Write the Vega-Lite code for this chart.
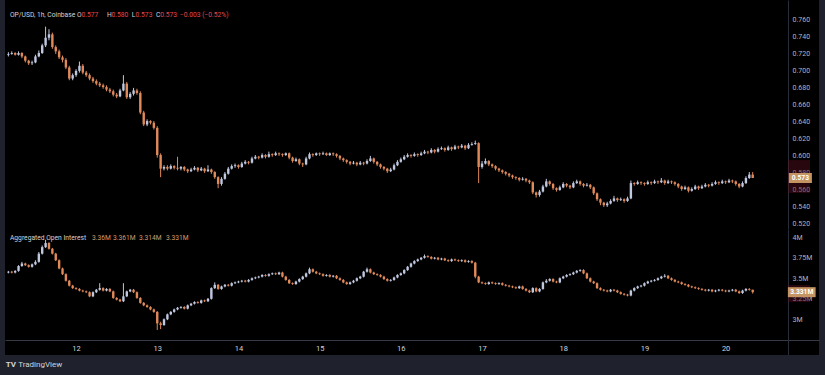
{
"$schema": "https://vega.github.io/schema/vega-lite/v6.json",
"background": "#1f222d",
"padding": {"left": 5, "right": 6, "top": 0, "bottom": 0},
"spacing": 0,
"bounds": "flush",
"config": {"view": {"stroke": null}, "axis": {"labelOverlap": false}, "scale": {"continuousPadding": 0}, "text": {"font": "Roboto", "baseline": "middle", "align": "left", "fontSize": 6.7}},
"datasets": {"c": [
{"t":4,"po":0.718,"ph":0.721,"pl":0.716,"pc":0.719,"io":3.57,"ih":3.59,"il":3.56,"ic":3.58},
{"t":5,"po":0.719,"ph":0.722,"pl":0.718,"pc":0.720,"io":3.58,"ih":3.59,"il":3.56,"ic":3.57},
{"t":6,"po":0.720,"ph":0.721,"pl":0.717,"pc":0.718,"io":3.57,"ih":3.60,"il":3.56,"ic":3.59},
{"t":7,"po":0.718,"ph":0.722,"pl":0.717,"pc":0.720,"io":3.59,"ih":3.66,"il":3.58,"ic":3.65},
{"t":8,"po":0.720,"ph":0.721,"pl":0.714,"pc":0.716,"io":3.65,"ih":3.70,"il":3.64,"ic":3.68},
{"t":9,"po":0.716,"ph":0.717,"pl":0.709,"pc":0.711,"io":3.68,"ih":3.69,"il":3.65,"ic":3.66},
{"t":10,"po":0.711,"ph":0.712,"pl":0.706,"pc":0.708,"io":3.66,"ih":3.67,"il":3.63,"ic":3.64},
{"t":11,"po":0.708,"ph":0.711,"pl":0.706,"pc":0.709,"io":3.64,"ih":3.68,"il":3.63,"ic":3.67},
{"t":12,"po":0.709,"ph":0.718,"pl":0.708,"pc":0.716,"io":3.67,"ih":3.72,"il":3.66,"ic":3.70},
{"t":13,"po":0.716,"ph":0.723,"pl":0.715,"pc":0.720,"io":3.70,"ih":3.82,"il":3.69,"ic":3.80},
{"t":14,"po":0.720,"ph":0.731,"pl":0.719,"pc":0.729,"io":3.80,"ih":3.90,"il":3.79,"ic":3.88},
{"t":15,"po":0.729,"ph":0.751,"pl":0.727,"pc":0.738,"io":3.88,"ih":3.97,"il":3.87,"ic":3.93},
{"t":16,"po":0.738,"ph":0.748,"pl":0.735,"pc":0.742,"io":3.93,"ih":3.94,"il":3.85,"ic":3.86},
{"t":17,"po":0.742,"ph":0.744,"pl":0.725,"pc":0.727,"io":3.86,"ih":3.87,"il":3.79,"ic":3.80},
{"t":18,"po":0.727,"ph":0.729,"pl":0.719,"pc":0.722,"io":3.80,"ih":3.81,"il":3.71,"ic":3.72},
{"t":19,"po":0.722,"ph":0.724,"pl":0.713,"pc":0.715,"io":3.72,"ih":3.73,"il":3.61,"ic":3.62},
{"t":20,"po":0.715,"ph":0.717,"pl":0.709,"pc":0.712,"io":3.62,"ih":3.63,"il":3.54,"ic":3.55},
{"t":21,"po":0.712,"ph":0.714,"pl":0.701,"pc":0.703,"io":3.55,"ih":3.56,"il":3.46,"ic":3.47},
{"t":22,"po":0.703,"ph":0.705,"pl":0.688,"pc":0.690,"io":3.47,"ih":3.48,"il":3.40,"ic":3.41},
{"t":23,"po":0.690,"ph":0.696,"pl":0.688,"pc":0.694,"io":3.41,"ih":3.42,"il":3.37,"ic":3.38},
{"t":24,"po":0.694,"ph":0.701,"pl":0.692,"pc":0.699,"io":3.38,"ih":3.39,"il":3.36,"ic":3.37},
{"t":25,"po":0.699,"ph":0.710,"pl":0.697,"pc":0.705,"io":3.37,"ih":3.38,"il":3.34,"ic":3.35},
{"t":26,"po":0.705,"ph":0.707,"pl":0.695,"pc":0.697,"io":3.35,"ih":3.36,"il":3.33,"ic":3.34},
{"t":27,"po":0.697,"ph":0.699,"pl":0.692,"pc":0.694,"io":3.34,"ih":3.35,"il":3.32,"ic":3.33},
{"t":28,"po":0.694,"ph":0.696,"pl":0.688,"pc":0.690,"io":3.33,"ih":3.34,"il":3.27,"ic":3.28},
{"t":29,"po":0.690,"ph":0.692,"pl":0.685,"pc":0.687,"io":3.28,"ih":3.34,"il":3.27,"ic":3.33},
{"t":30,"po":0.687,"ph":0.689,"pl":0.682,"pc":0.684,"io":3.33,"ih":3.37,"il":3.32,"ic":3.36},
{"t":31,"po":0.684,"ph":0.686,"pl":0.680,"pc":0.682,"io":3.36,"ih":3.44,"il":3.35,"ic":3.38},
{"t":32,"po":0.682,"ph":0.684,"pl":0.678,"pc":0.680,"io":3.38,"ih":3.39,"il":3.34,"ic":3.35},
{"t":33,"po":0.680,"ph":0.682,"pl":0.675,"pc":0.677,"io":3.35,"ih":3.38,"il":3.34,"ic":3.37},
{"t":34,"po":0.677,"ph":0.679,"pl":0.673,"pc":0.675,"io":3.37,"ih":3.38,"il":3.33,"ic":3.34},
{"t":35,"po":0.675,"ph":0.677,"pl":0.669,"pc":0.671,"io":3.34,"ih":3.35,"il":3.25,"ic":3.26},
{"t":36,"po":0.671,"ph":0.673,"pl":0.667,"pc":0.669,"io":3.26,"ih":3.27,"il":3.23,"ic":3.24},
{"t":37,"po":0.669,"ph":0.678,"pl":0.668,"pc":0.676,"io":3.24,"ih":3.25,"il":3.21,"ic":3.22},
{"t":38,"po":0.676,"ph":0.694,"pl":0.675,"pc":0.684,"io":3.22,"ih":3.44,"il":3.21,"ic":3.28},
{"t":39,"po":0.684,"ph":0.686,"pl":0.666,"pc":0.668,"io":3.28,"ih":3.35,"il":3.27,"ic":3.34},
{"t":40,"po":0.668,"ph":0.674,"pl":0.666,"pc":0.672,"io":3.34,"ih":3.37,"il":3.33,"ic":3.36},
{"t":41,"po":0.672,"ph":0.679,"pl":0.670,"pc":0.676,"io":3.36,"ih":3.37,"il":3.32,"ic":3.33},
{"t":42,"po":0.676,"ph":0.678,"pl":0.671,"pc":0.673,"io":3.33,"ih":3.34,"il":3.25,"ic":3.26},
{"t":43,"po":0.673,"ph":0.675,"pl":0.648,"pc":0.650,"io":3.26,"ih":3.27,"il":3.19,"ic":3.20},
{"t":44,"po":0.650,"ph":0.652,"pl":0.634,"pc":0.636,"io":3.20,"ih":3.21,"il":3.16,"ic":3.17},
{"t":45,"po":0.636,"ph":0.642,"pl":0.634,"pc":0.640,"io":3.17,"ih":3.18,"il":3.14,"ic":3.15},
{"t":46,"po":0.640,"ph":0.641,"pl":0.636,"pc":0.638,"io":3.15,"ih":3.16,"il":3.11,"ic":3.12},
{"t":47,"po":0.638,"ph":0.640,"pl":0.630,"pc":0.632,"io":3.12,"ih":3.13,"il":3.08,"ic":3.09},
{"t":48,"po":0.632,"ph":0.634,"pl":0.597,"pc":0.600,"io":3.09,"ih":3.10,"il":2.87,"ic":2.95},
{"t":49,"po":0.600,"ph":0.602,"pl":0.574,"pc":0.584,"io":2.95,"ih":2.97,"il":2.88,"ic":2.93},
{"t":50,"po":0.584,"ph":0.588,"pl":0.582,"pc":0.586,"io":2.93,"ih":3.01,"il":2.92,"ic":3.00},
{"t":51,"po":0.586,"ph":0.588,"pl":0.582,"pc":0.584,"io":3.00,"ih":3.07,"il":2.99,"ic":3.06},
{"t":52,"po":0.584,"ph":0.589,"pl":0.583,"pc":0.587,"io":3.06,"ih":3.10,"il":3.05,"ic":3.09},
{"t":53,"po":0.587,"ph":0.588,"pl":0.583,"pc":0.585,"io":3.09,"ih":3.13,"il":3.08,"ic":3.12},
{"t":54,"po":0.585,"ph":0.598,"pl":0.582,"pc":0.584,"io":3.12,"ih":3.15,"il":3.11,"ic":3.14},
{"t":55,"po":0.584,"ph":0.587,"pl":0.582,"pc":0.586,"io":3.14,"ih":3.16,"il":3.13,"ic":3.15},
{"t":56,"po":0.586,"ph":0.587,"pl":0.581,"pc":0.583,"io":3.15,"ih":3.16,"il":3.12,"ic":3.13},
{"t":57,"po":0.583,"ph":0.584,"pl":0.579,"pc":0.581,"io":3.13,"ih":3.18,"il":3.12,"ic":3.17},
{"t":58,"po":0.581,"ph":0.585,"pl":0.580,"pc":0.583,"io":3.17,"ih":3.20,"il":3.16,"ic":3.19},
{"t":59,"po":0.583,"ph":0.587,"pl":0.582,"pc":0.585,"io":3.19,"ih":3.22,"il":3.18,"ic":3.21},
{"t":60,"po":0.585,"ph":0.586,"pl":0.580,"pc":0.582,"io":3.21,"ih":3.22,"il":3.19,"ic":3.20},
{"t":61,"po":0.582,"ph":0.586,"pl":0.581,"pc":0.584,"io":3.20,"ih":3.24,"il":3.19,"ic":3.23},
{"t":62,"po":0.584,"ph":0.585,"pl":0.579,"pc":0.581,"io":3.23,"ih":3.24,"il":3.21,"ic":3.22},
{"t":63,"po":0.581,"ph":0.588,"pl":0.580,"pc":0.583,"io":3.22,"ih":3.26,"il":3.21,"ic":3.25},
{"t":64,"po":0.583,"ph":0.584,"pl":0.578,"pc":0.580,"io":3.25,"ih":3.39,"il":3.24,"ic":3.38},
{"t":65,"po":0.580,"ph":0.581,"pl":0.572,"pc":0.574,"io":3.38,"ih":3.45,"il":3.37,"ic":3.42},
{"t":66,"po":0.574,"ph":0.575,"pl":0.561,"pc":0.566,"io":3.42,"ih":3.43,"il":3.36,"ic":3.37},
{"t":67,"po":0.566,"ph":0.574,"pl":0.564,"pc":0.572,"io":3.37,"ih":3.41,"il":3.36,"ic":3.40},
{"t":68,"po":0.572,"ph":0.580,"pl":0.571,"pc":0.578,"io":3.40,"ih":3.43,"il":3.39,"ic":3.42},
{"t":69,"po":0.578,"ph":0.586,"pl":0.577,"pc":0.584,"io":3.42,"ih":3.43,"il":3.40,"ic":3.41},
{"t":70,"po":0.584,"ph":0.589,"pl":0.583,"pc":0.587,"io":3.41,"ih":3.45,"il":3.40,"ic":3.44},
{"t":71,"po":0.587,"ph":0.590,"pl":0.585,"pc":0.588,"io":3.44,"ih":3.46,"il":3.43,"ic":3.45},
{"t":72,"po":0.588,"ph":0.589,"pl":0.584,"pc":0.586,"io":3.45,"ih":3.47,"il":3.44,"ic":3.46},
{"t":73,"po":0.586,"ph":0.592,"pl":0.585,"pc":0.590,"io":3.46,"ih":3.48,"il":3.45,"ic":3.47},
{"t":74,"po":0.590,"ph":0.594,"pl":0.589,"pc":0.592,"io":3.47,"ih":3.48,"il":3.45,"ic":3.46},
{"t":75,"po":0.592,"ph":0.593,"pl":0.589,"pc":0.591,"io":3.46,"ih":3.49,"il":3.45,"ic":3.48},
{"t":76,"po":0.591,"ph":0.598,"pl":0.590,"pc":0.596,"io":3.48,"ih":3.51,"il":3.47,"ic":3.50},
{"t":77,"po":0.596,"ph":0.600,"pl":0.595,"pc":0.598,"io":3.50,"ih":3.52,"il":3.49,"ic":3.51},
{"t":78,"po":0.598,"ph":0.599,"pl":0.595,"pc":0.597,"io":3.51,"ih":3.53,"il":3.50,"ic":3.52},
{"t":79,"po":0.597,"ph":0.602,"pl":0.596,"pc":0.600,"io":3.52,"ih":3.55,"il":3.51,"ic":3.54},
{"t":80,"po":0.600,"ph":0.601,"pl":0.596,"pc":0.598,"io":3.54,"ih":3.55,"il":3.52,"ic":3.53},
{"t":81,"po":0.598,"ph":0.604,"pl":0.597,"pc":0.601,"io":3.53,"ih":3.56,"il":3.52,"ic":3.55},
{"t":82,"po":0.601,"ph":0.602,"pl":0.598,"pc":0.600,"io":3.55,"ih":3.57,"il":3.54,"ic":3.56},
{"t":83,"po":0.600,"ph":0.604,"pl":0.599,"pc":0.602,"io":3.56,"ih":3.57,"il":3.54,"ic":3.55},
{"t":84,"po":0.602,"ph":0.603,"pl":0.599,"pc":0.601,"io":3.55,"ih":3.58,"il":3.54,"ic":3.57},
{"t":85,"po":0.601,"ph":0.602,"pl":0.598,"pc":0.600,"io":3.57,"ih":3.58,"il":3.51,"ic":3.52},
{"t":86,"po":0.600,"ph":0.603,"pl":0.599,"pc":0.602,"io":3.52,"ih":3.53,"il":3.47,"ic":3.48},
{"t":87,"po":0.602,"ph":0.603,"pl":0.595,"pc":0.597,"io":3.48,"ih":3.49,"il":3.43,"ic":3.44},
{"t":88,"po":0.597,"ph":0.598,"pl":0.591,"pc":0.593,"io":3.44,"ih":3.45,"il":3.42,"ic":3.43},
{"t":89,"po":0.593,"ph":0.597,"pl":0.592,"pc":0.595,"io":3.43,"ih":3.47,"il":3.42,"ic":3.46},
{"t":90,"po":0.595,"ph":0.596,"pl":0.588,"pc":0.590,"io":3.46,"ih":3.50,"il":3.45,"ic":3.49},
{"t":91,"po":0.590,"ph":0.591,"pl":0.586,"pc":0.589,"io":3.49,"ih":3.53,"il":3.48,"ic":3.52},
{"t":92,"po":0.589,"ph":0.598,"pl":0.588,"pc":0.596,"io":3.52,"ih":3.57,"il":3.51,"ic":3.56},
{"t":93,"po":0.596,"ph":0.603,"pl":0.595,"pc":0.601,"io":3.56,"ih":3.63,"il":3.55,"ic":3.61},
{"t":94,"po":0.601,"ph":0.602,"pl":0.598,"pc":0.600,"io":3.61,"ih":3.62,"il":3.57,"ic":3.58},
{"t":95,"po":0.600,"ph":0.603,"pl":0.599,"pc":0.602,"io":3.58,"ih":3.59,"il":3.55,"ic":3.56},
{"t":96,"po":0.602,"ph":0.603,"pl":0.599,"pc":0.601,"io":3.56,"ih":3.57,"il":3.54,"ic":3.55},
{"t":97,"po":0.601,"ph":0.604,"pl":0.600,"pc":0.602,"io":3.55,"ih":3.56,"il":3.52,"ic":3.53},
{"t":98,"po":0.602,"ph":0.603,"pl":0.599,"pc":0.600,"io":3.53,"ih":3.55,"il":3.52,"ic":3.54},
{"t":99,"po":0.600,"ph":0.603,"pl":0.599,"pc":0.602,"io":3.54,"ih":3.55,"il":3.51,"ic":3.52},
{"t":100,"po":0.602,"ph":0.603,"pl":0.599,"pc":0.601,"io":3.52,"ih":3.54,"il":3.51,"ic":3.53},
{"t":101,"po":0.601,"ph":0.602,"pl":0.597,"pc":0.599,"io":3.53,"ih":3.54,"il":3.49,"ic":3.50},
{"t":102,"po":0.599,"ph":0.600,"pl":0.594,"pc":0.596,"io":3.50,"ih":3.51,"il":3.47,"ic":3.48},
{"t":103,"po":0.596,"ph":0.597,"pl":0.592,"pc":0.594,"io":3.48,"ih":3.49,"il":3.44,"ic":3.45},
{"t":104,"po":0.594,"ph":0.595,"pl":0.590,"pc":0.592,"io":3.45,"ih":3.46,"il":3.42,"ic":3.43},
{"t":105,"po":0.592,"ph":0.593,"pl":0.588,"pc":0.590,"io":3.43,"ih":3.46,"il":3.42,"ic":3.45},
{"t":106,"po":0.590,"ph":0.593,"pl":0.589,"pc":0.591,"io":3.45,"ih":3.48,"il":3.44,"ic":3.47},
{"t":107,"po":0.591,"ph":0.592,"pl":0.587,"pc":0.589,"io":3.47,"ih":3.51,"il":3.46,"ic":3.50},
{"t":108,"po":0.589,"ph":0.593,"pl":0.588,"pc":0.591,"io":3.50,"ih":3.53,"il":3.49,"ic":3.52},
{"t":109,"po":0.591,"ph":0.592,"pl":0.588,"pc":0.590,"io":3.52,"ih":3.59,"il":3.51,"ic":3.58},
{"t":110,"po":0.590,"ph":0.595,"pl":0.589,"pc":0.593,"io":3.58,"ih":3.63,"il":3.57,"ic":3.61},
{"t":111,"po":0.593,"ph":0.599,"pl":0.592,"pc":0.596,"io":3.61,"ih":3.62,"il":3.56,"ic":3.57},
{"t":112,"po":0.596,"ph":0.597,"pl":0.590,"pc":0.592,"io":3.57,"ih":3.58,"il":3.54,"ic":3.55},
{"t":113,"po":0.592,"ph":0.593,"pl":0.587,"pc":0.589,"io":3.55,"ih":3.56,"il":3.53,"ic":3.54},
{"t":114,"po":0.589,"ph":0.590,"pl":0.584,"pc":0.586,"io":3.54,"ih":3.55,"il":3.51,"ic":3.52},
{"t":115,"po":0.586,"ph":0.587,"pl":0.582,"pc":0.584,"io":3.52,"ih":3.53,"il":3.48,"ic":3.49},
{"t":116,"po":0.584,"ph":0.585,"pl":0.579,"pc":0.581,"io":3.49,"ih":3.50,"il":3.46,"ic":3.47},
{"t":117,"po":0.581,"ph":0.585,"pl":0.580,"pc":0.583,"io":3.47,"ih":3.49,"il":3.46,"ic":3.48},
{"t":118,"po":0.583,"ph":0.590,"pl":0.582,"pc":0.588,"io":3.48,"ih":3.52,"il":3.47,"ic":3.51},
{"t":119,"po":0.588,"ph":0.594,"pl":0.587,"pc":0.592,"io":3.51,"ih":3.55,"il":3.50,"ic":3.54},
{"t":120,"po":0.592,"ph":0.597,"pl":0.591,"pc":0.595,"io":3.54,"ih":3.57,"il":3.53,"ic":3.56},
{"t":121,"po":0.595,"ph":0.600,"pl":0.594,"pc":0.598,"io":3.56,"ih":3.61,"il":3.55,"ic":3.60},
{"t":122,"po":0.598,"ph":0.602,"pl":0.597,"pc":0.600,"io":3.60,"ih":3.65,"il":3.59,"ic":3.64},
{"t":123,"po":0.600,"ph":0.601,"pl":0.597,"pc":0.599,"io":3.64,"ih":3.69,"il":3.63,"ic":3.68},
{"t":124,"po":0.599,"ph":0.603,"pl":0.598,"pc":0.601,"io":3.68,"ih":3.72,"il":3.67,"ic":3.71},
{"t":125,"po":0.601,"ph":0.602,"pl":0.598,"pc":0.600,"io":3.71,"ih":3.74,"il":3.70,"ic":3.73},
{"t":126,"po":0.600,"ph":0.604,"pl":0.599,"pc":0.602,"io":3.73,"ih":3.76,"il":3.72,"ic":3.75},
{"t":127,"po":0.602,"ph":0.606,"pl":0.601,"pc":0.604,"io":3.75,"ih":3.79,"il":3.74,"ic":3.77},
{"t":128,"po":0.604,"ph":0.605,"pl":0.601,"pc":0.603,"io":3.77,"ih":3.78,"il":3.75,"ic":3.76},
{"t":129,"po":0.603,"ph":0.608,"pl":0.602,"pc":0.606,"io":3.76,"ih":3.77,"il":3.73,"ic":3.74},
{"t":130,"po":0.606,"ph":0.607,"pl":0.602,"pc":0.604,"io":3.74,"ih":3.76,"il":3.73,"ic":3.75},
{"t":131,"po":0.604,"ph":0.609,"pl":0.603,"pc":0.607,"io":3.75,"ih":3.76,"il":3.72,"ic":3.73},
{"t":132,"po":0.607,"ph":0.610,"pl":0.606,"pc":0.608,"io":3.73,"ih":3.75,"il":3.72,"ic":3.74},
{"t":133,"po":0.608,"ph":0.609,"pl":0.604,"pc":0.606,"io":3.74,"ih":3.75,"il":3.71,"ic":3.72},
{"t":134,"po":0.606,"ph":0.611,"pl":0.605,"pc":0.609,"io":3.72,"ih":3.73,"il":3.70,"ic":3.71},
{"t":135,"po":0.609,"ph":0.610,"pl":0.605,"pc":0.607,"io":3.71,"ih":3.74,"il":3.70,"ic":3.73},
{"t":136,"po":0.607,"ph":0.612,"pl":0.606,"pc":0.610,"io":3.73,"ih":3.74,"il":3.71,"ic":3.72},
{"t":137,"po":0.610,"ph":0.611,"pl":0.607,"pc":0.609,"io":3.72,"ih":3.73,"il":3.70,"ic":3.71},
{"t":138,"po":0.609,"ph":0.613,"pl":0.608,"pc":0.611,"io":3.71,"ih":3.73,"il":3.70,"ic":3.72},
{"t":139,"po":0.611,"ph":0.612,"pl":0.606,"pc":0.608,"io":3.72,"ih":3.73,"il":3.69,"ic":3.70},
{"t":140,"po":0.608,"ph":0.614,"pl":0.607,"pc":0.612,"io":3.70,"ih":3.72,"il":3.69,"ic":3.71},
{"t":141,"po":0.612,"ph":0.615,"pl":0.611,"pc":0.613,"io":3.71,"ih":3.72,"il":3.68,"ic":3.69},
{"t":142,"po":0.613,"ph":0.617,"pl":0.612,"pc":0.614,"io":3.69,"ih":3.70,"il":3.50,"ic":3.52},
{"t":143,"po":0.614,"ph":0.615,"pl":0.567,"pc":0.586,"io":3.52,"ih":3.53,"il":3.44,"ic":3.45},
{"t":144,"po":0.586,"ph":0.593,"pl":0.584,"pc":0.590,"io":3.45,"ih":3.46,"il":3.43,"ic":3.44},
{"t":145,"po":0.590,"ph":0.596,"pl":0.589,"pc":0.593,"io":3.44,"ih":3.45,"il":3.42,"ic":3.43},
{"t":146,"po":0.593,"ph":0.594,"pl":0.587,"pc":0.589,"io":3.43,"ih":3.46,"il":3.42,"ic":3.45},
{"t":147,"po":0.589,"ph":0.590,"pl":0.585,"pc":0.587,"io":3.45,"ih":3.46,"il":3.43,"ic":3.44},
{"t":148,"po":0.587,"ph":0.588,"pl":0.582,"pc":0.584,"io":3.44,"ih":3.45,"il":3.42,"ic":3.43},
{"t":149,"po":0.584,"ph":0.585,"pl":0.580,"pc":0.582,"io":3.43,"ih":3.45,"il":3.42,"ic":3.44},
{"t":150,"po":0.582,"ph":0.583,"pl":0.578,"pc":0.580,"io":3.44,"ih":3.45,"il":3.41,"ic":3.42},
{"t":151,"po":0.580,"ph":0.581,"pl":0.576,"pc":0.578,"io":3.42,"ih":3.43,"il":3.40,"ic":3.41},
{"t":152,"po":0.578,"ph":0.579,"pl":0.574,"pc":0.576,"io":3.41,"ih":3.42,"il":3.39,"ic":3.40},
{"t":153,"po":0.576,"ph":0.577,"pl":0.572,"pc":0.574,"io":3.40,"ih":3.41,"il":3.38,"ic":3.39},
{"t":154,"po":0.574,"ph":0.575,"pl":0.571,"pc":0.573,"io":3.39,"ih":3.40,"il":3.37,"ic":3.38},
{"t":155,"po":0.573,"ph":0.574,"pl":0.569,"pc":0.571,"io":3.38,"ih":3.41,"il":3.37,"ic":3.40},
{"t":156,"po":0.571,"ph":0.574,"pl":0.570,"pc":0.572,"io":3.40,"ih":3.41,"il":3.36,"ic":3.37},
{"t":157,"po":0.572,"ph":0.573,"pl":0.568,"pc":0.570,"io":3.37,"ih":3.38,"il":3.34,"ic":3.35},
{"t":158,"po":0.570,"ph":0.571,"pl":0.566,"pc":0.568,"io":3.35,"ih":3.36,"il":3.32,"ic":3.33},
{"t":159,"po":0.568,"ph":0.569,"pl":0.554,"pc":0.556,"io":3.33,"ih":3.39,"il":3.32,"ic":3.38},
{"t":160,"po":0.556,"ph":0.557,"pl":0.550,"pc":0.553,"io":3.38,"ih":3.39,"il":3.33,"ic":3.34},
{"t":161,"po":0.553,"ph":0.559,"pl":0.551,"pc":0.557,"io":3.34,"ih":3.38,"il":3.33,"ic":3.37},
{"t":162,"po":0.557,"ph":0.565,"pl":0.556,"pc":0.563,"io":3.37,"ih":3.46,"il":3.36,"ic":3.45},
{"t":163,"po":0.563,"ph":0.572,"pl":0.562,"pc":0.569,"io":3.45,"ih":3.49,"il":3.44,"ic":3.47},
{"t":164,"po":0.569,"ph":0.570,"pl":0.564,"pc":0.566,"io":3.47,"ih":3.50,"il":3.46,"ic":3.49},
{"t":165,"po":0.566,"ph":0.567,"pl":0.559,"pc":0.561,"io":3.49,"ih":3.50,"il":3.45,"ic":3.46},
{"t":166,"po":0.561,"ph":0.562,"pl":0.557,"pc":0.559,"io":3.46,"ih":3.47,"il":3.44,"ic":3.45},
{"t":167,"po":0.559,"ph":0.564,"pl":0.558,"pc":0.562,"io":3.45,"ih":3.51,"il":3.44,"ic":3.50},
{"t":168,"po":0.562,"ph":0.568,"pl":0.561,"pc":0.566,"io":3.50,"ih":3.53,"il":3.49,"ic":3.52},
{"t":169,"po":0.566,"ph":0.567,"pl":0.562,"pc":0.564,"io":3.52,"ih":3.55,"il":3.51,"ic":3.54},
{"t":170,"po":0.564,"ph":0.565,"pl":0.560,"pc":0.562,"io":3.54,"ih":3.56,"il":3.53,"ic":3.55},
{"t":171,"po":0.562,"ph":0.569,"pl":0.561,"pc":0.567,"io":3.55,"ih":3.58,"il":3.54,"ic":3.57},
{"t":172,"po":0.567,"ph":0.571,"pl":0.566,"pc":0.569,"io":3.57,"ih":3.60,"il":3.56,"ic":3.59},
{"t":173,"po":0.569,"ph":0.570,"pl":0.564,"pc":0.566,"io":3.59,"ih":3.61,"il":3.58,"ic":3.60},
{"t":174,"po":0.566,"ph":0.567,"pl":0.562,"pc":0.564,"io":3.60,"ih":3.61,"il":3.55,"ic":3.56},
{"t":175,"po":0.564,"ph":0.567,"pl":0.563,"pc":0.565,"io":3.56,"ih":3.57,"il":3.49,"ic":3.50},
{"t":176,"po":0.565,"ph":0.566,"pl":0.560,"pc":0.562,"io":3.50,"ih":3.51,"il":3.45,"ic":3.46},
{"t":177,"po":0.562,"ph":0.563,"pl":0.553,"pc":0.555,"io":3.46,"ih":3.47,"il":3.43,"ic":3.44},
{"t":178,"po":0.555,"ph":0.556,"pl":0.546,"pc":0.548,"io":3.44,"ih":3.45,"il":3.37,"ic":3.38},
{"t":179,"po":0.548,"ph":0.549,"pl":0.541,"pc":0.544,"io":3.38,"ih":3.39,"il":3.35,"ic":3.36},
{"t":180,"po":0.544,"ph":0.545,"pl":0.539,"pc":0.541,"io":3.36,"ih":3.37,"il":3.34,"ic":3.35},
{"t":181,"po":0.541,"ph":0.545,"pl":0.539,"pc":0.543,"io":3.35,"ih":3.36,"il":3.33,"ic":3.34},
{"t":182,"po":0.543,"ph":0.548,"pl":0.542,"pc":0.546,"io":3.34,"ih":3.37,"il":3.33,"ic":3.36},
{"t":183,"po":0.546,"ph":0.552,"pl":0.545,"pc":0.549,"io":3.36,"ih":3.37,"il":3.34,"ic":3.35},
{"t":184,"po":0.549,"ph":0.550,"pl":0.545,"pc":0.547,"io":3.35,"ih":3.36,"il":3.32,"ic":3.33},
{"t":185,"po":0.547,"ph":0.550,"pl":0.546,"pc":0.548,"io":3.33,"ih":3.34,"il":3.30,"ic":3.31},
{"t":186,"po":0.548,"ph":0.549,"pl":0.544,"pc":0.546,"io":3.31,"ih":3.32,"il":3.29,"ic":3.30},
{"t":187,"po":0.546,"ph":0.551,"pl":0.545,"pc":0.549,"io":3.30,"ih":3.31,"il":3.28,"ic":3.29},
{"t":188,"po":0.549,"ph":0.570,"pl":0.548,"pc":0.567,"io":3.29,"ih":3.36,"il":3.28,"ic":3.35},
{"t":189,"po":0.567,"ph":0.568,"pl":0.564,"pc":0.566,"io":3.35,"ih":3.39,"il":3.34,"ic":3.38},
{"t":190,"po":0.566,"ph":0.570,"pl":0.565,"pc":0.568,"io":3.38,"ih":3.41,"il":3.37,"ic":3.40},
{"t":191,"po":0.568,"ph":0.569,"pl":0.565,"pc":0.567,"io":3.40,"ih":3.42,"il":3.39,"ic":3.41},
{"t":192,"po":0.567,"ph":0.568,"pl":0.564,"pc":0.566,"io":3.41,"ih":3.45,"il":3.40,"ic":3.44},
{"t":193,"po":0.566,"ph":0.570,"pl":0.565,"pc":0.568,"io":3.44,"ih":3.47,"il":3.43,"ic":3.46},
{"t":194,"po":0.568,"ph":0.569,"pl":0.565,"pc":0.567,"io":3.46,"ih":3.48,"il":3.45,"ic":3.47},
{"t":195,"po":0.567,"ph":0.571,"pl":0.566,"pc":0.569,"io":3.47,"ih":3.49,"il":3.46,"ic":3.48},
{"t":196,"po":0.569,"ph":0.570,"pl":0.566,"pc":0.568,"io":3.48,"ih":3.51,"il":3.47,"ic":3.50},
{"t":197,"po":0.568,"ph":0.573,"pl":0.567,"pc":0.570,"io":3.50,"ih":3.53,"il":3.49,"ic":3.52},
{"t":198,"po":0.570,"ph":0.571,"pl":0.565,"pc":0.567,"io":3.52,"ih":3.55,"il":3.51,"ic":3.53},
{"t":199,"po":0.567,"ph":0.571,"pl":0.566,"pc":0.569,"io":3.53,"ih":3.54,"il":3.49,"ic":3.50},
{"t":200,"po":0.569,"ph":0.570,"pl":0.566,"pc":0.568,"io":3.50,"ih":3.51,"il":3.47,"ic":3.48},
{"t":201,"po":0.568,"ph":0.569,"pl":0.564,"pc":0.566,"io":3.48,"ih":3.49,"il":3.45,"ic":3.46},
{"t":202,"po":0.566,"ph":0.567,"pl":0.561,"pc":0.563,"io":3.46,"ih":3.47,"il":3.44,"ic":3.45},
{"t":203,"po":0.563,"ph":0.564,"pl":0.558,"pc":0.560,"io":3.45,"ih":3.46,"il":3.42,"ic":3.43},
{"t":204,"po":0.560,"ph":0.564,"pl":0.559,"pc":0.562,"io":3.43,"ih":3.44,"il":3.41,"ic":3.42},
{"t":205,"po":0.562,"ph":0.563,"pl":0.556,"pc":0.558,"io":3.42,"ih":3.43,"il":3.39,"ic":3.40},
{"t":206,"po":0.558,"ph":0.562,"pl":0.557,"pc":0.560,"io":3.40,"ih":3.41,"il":3.38,"ic":3.39},
{"t":207,"po":0.560,"ph":0.565,"pl":0.559,"pc":0.563,"io":3.39,"ih":3.40,"il":3.37,"ic":3.38},
{"t":208,"po":0.563,"ph":0.564,"pl":0.559,"pc":0.561,"io":3.38,"ih":3.39,"il":3.36,"ic":3.37},
{"t":209,"po":0.561,"ph":0.565,"pl":0.560,"pc":0.563,"io":3.37,"ih":3.38,"il":3.35,"ic":3.36},
{"t":210,"po":0.563,"ph":0.567,"pl":0.562,"pc":0.565,"io":3.36,"ih":3.37,"il":3.34,"ic":3.35},
{"t":211,"po":0.565,"ph":0.566,"pl":0.562,"pc":0.564,"io":3.35,"ih":3.37,"il":3.34,"ic":3.36},
{"t":212,"po":0.564,"ph":0.568,"pl":0.563,"pc":0.566,"io":3.36,"ih":3.37,"il":3.33,"ic":3.34},
{"t":213,"po":0.566,"ph":0.570,"pl":0.565,"pc":0.568,"io":3.34,"ih":3.36,"il":3.33,"ic":3.35},
{"t":214,"po":0.568,"ph":0.569,"pl":0.565,"pc":0.567,"io":3.35,"ih":3.37,"il":3.34,"ic":3.36},
{"t":215,"po":0.567,"ph":0.571,"pl":0.566,"pc":0.569,"io":3.36,"ih":3.37,"il":3.34,"ic":3.35},
{"t":216,"po":0.569,"ph":0.570,"pl":0.566,"pc":0.568,"io":3.35,"ih":3.36,"il":3.33,"ic":3.34},
{"t":217,"po":0.568,"ph":0.572,"pl":0.567,"pc":0.570,"io":3.34,"ih":3.36,"il":3.33,"ic":3.35},
{"t":218,"po":0.570,"ph":0.571,"pl":0.567,"pc":0.569,"io":3.35,"ih":3.37,"il":3.34,"ic":3.36},
{"t":219,"po":0.569,"ph":0.570,"pl":0.564,"pc":0.566,"io":3.36,"ih":3.37,"il":3.33,"ic":3.34},
{"t":220,"po":0.566,"ph":0.567,"pl":0.561,"pc":0.563,"io":3.34,"ih":3.35,"il":3.31,"ic":3.32},
{"t":221,"po":0.563,"ph":0.569,"pl":0.562,"pc":0.567,"io":3.32,"ih":3.36,"il":3.31,"ic":3.35},
{"t":222,"po":0.567,"ph":0.575,"pl":0.566,"pc":0.573,"io":3.35,"ih":3.38,"il":3.34,"ic":3.37},
{"t":223,"po":0.573,"ph":0.580,"pl":0.572,"pc":0.577,"io":3.37,"ih":3.38,"il":3.35,"ic":3.36},
{"t":224,"po":0.577,"ph":0.580,"pl":0.573,"pc":0.573,"io":3.36,"ih":3.361,"il":3.314,"ic":3.331}
]},
"vconcat": [
{
"width": 814, "height": 229,
"view": {"fill": "#000000", "stroke": null},
"layer": [
{"data": {"name": "c"}, "mark": {"type": "rule", "strokeWidth": 1},
 "encoding": {
  "x": {"field": "t", "type": "quantitative", "scale": {"domain": [3, 243.6], "nice": false, "zero": false, "padding": 0},
        "axis": {"title": null, "labels": false, "ticks": false, "grid": false, "domain": true, "domainColor": "#2a2e39", "tickCount": 50}},
  "y": {"field": "pl", "type": "quantitative", "scale": {"domain": [0.513, 0.7824], "nice": false, "zero": false, "padding": 0},
        "axis": {"title": null, "orient": "right", "offset": -31, "values": [0.52,0.54,0.56,0.58,0.60,0.62,0.64,0.66,0.68,0.70,0.72,0.74,0.76], "format": ".3f",
                 "tickCount": 50, "labelColor": "#b2b5be", "labelFontSize": 7, "labelFont": "Roboto", "labelPadding": 4, "ticks": false, "grid": false,
                 "domain": true, "domainColor": "#2a2e39", "labelOverlap": false}},
  "y2": {"field": "ph"},
  "color": {"condition": {"test": "datum.pc >= datum.po", "value": "#c0c8e0"}, "value": "#e08a5a"}}},
{"data": {"name": "c"}, "mark": {"type": "bar", "width": 2.4},
 "encoding": {
  "x": {"field": "t", "type": "quantitative"},
  "y": {"field": "po", "type": "quantitative"},
  "y2": {"field": "pc"},
  "color": {"condition": {"test": "datum.pc >= datum.po", "value": "#c0c8e0"}, "value": "#e08a5a"}}},
{"data": {"values": [{}]}, "mark": {"type": "rect", "color": "#5a1020", "opacity": 0.45},
 "encoding": {"x": {"datum": 234.4, "type": "quantitative"}, "x2": {"datum": 240.95},
              "y": {"datum": 0.5941, "type": "quantitative"}, "y2": {"datum": 0.5553}}},
{"data": {"values": [{}]}, "mark": {"type": "rect", "color": "#c49562"},
 "encoding": {"x": {"datum": 234.7, "type": "quantitative"}, "x2": {"datum": 241.5},
              "y": {"datum": 0.5789, "type": "quantitative"}, "y2": {"datum": 0.5671}}},
{"data": {"values": [{}]}, "mark": {"type": "text", "text": "0.573", "align": "center", "color": "#ffffff", "fontWeight": "bold"},
 "encoding": {"x": {"datum": 238.1, "type": "quantitative"}, "y": {"datum": 0.573, "type": "quantitative"}}},
{"data": {"values": [{}]}, "mark": {"type": "text", "text": "OP/USD, 1h, Coinbase", "color": "#d1d4dc"},
 "encoding": {"x": {"datum": 4.48, "type": "quantitative"}, "y": {"datum": 0.7648, "type": "quantitative"}}},
{"data": {"values": [{}]}, "mark": {"type": "text", "text": "O", "color": "#d1d4dc"},
 "encoding": {"x": {"datum": 24.3, "type": "quantitative"}, "y": {"datum": 0.7648, "type": "quantitative"}}},
{"data": {"values": [{}]}, "mark": {"type": "text", "text": "0.577", "color": "#e5484d"},
 "encoding": {"x": {"datum": 25.6, "type": "quantitative"}, "y": {"datum": 0.7648, "type": "quantitative"}}},
{"data": {"values": [{}]}, "mark": {"type": "text", "text": "H", "color": "#d1d4dc"},
 "encoding": {"x": {"datum": 33.15, "type": "quantitative"}, "y": {"datum": 0.7648, "type": "quantitative"}}},
{"data": {"values": [{}]}, "mark": {"type": "text", "text": "0.580", "color": "#e5484d"},
 "encoding": {"x": {"datum": 34.5, "type": "quantitative"}, "y": {"datum": 0.7648, "type": "quantitative"}}},
{"data": {"values": [{}]}, "mark": {"type": "text", "text": "L", "color": "#d1d4dc"},
 "encoding": {"x": {"datum": 40.5, "type": "quantitative"}, "y": {"datum": 0.7648, "type": "quantitative"}}},
{"data": {"values": [{}]}, "mark": {"type": "text", "text": "0.573", "color": "#e5484d"},
 "encoding": {"x": {"datum": 41.6, "type": "quantitative"}, "y": {"datum": 0.7648, "type": "quantitative"}}},
{"data": {"values": [{}]}, "mark": {"type": "text", "text": "C", "color": "#d1d4dc"},
 "encoding": {"x": {"datum": 47.6, "type": "quantitative"}, "y": {"datum": 0.7648, "type": "quantitative"}}},
{"data": {"values": [{}]}, "mark": {"type": "text", "text": "0.573", "color": "#e5484d"},
 "encoding": {"x": {"datum": 48.9, "type": "quantitative"}, "y": {"datum": 0.7648, "type": "quantitative"}}},
{"data": {"values": [{}]}, "mark": {"type": "text", "text": "−0.003 (−0.52%)", "color": "#e5484d"},
 "encoding": {"x": {"datum": 54.7, "type": "quantitative"}, "y": {"datum": 0.7648, "type": "quantitative"}}}
]
},
{
"width": 814, "height": 146,
"view": {"fill": "#000000", "stroke": null},
"layer": [
{"data": {"name": "c"}, "mark": {"type": "rule", "strokeWidth": 1},
 "encoding": {
  "x": {"field": "t", "type": "quantitative", "scale": {"domain": [3, 243.6], "nice": false, "zero": false, "padding": 0},
        "axis": {"title": null, "orient": "bottom", "offset": -35, "values": [24,48,72,96,120,144,168,192,216], "tickCount": 50,
                 "labelExpr": "'' + (floor(datum.value / 24) + 11)", "ticks": false, "grid": false, "domain": true,
                 "domainColor": "#363a45", "labelColor": "#d1d4dc", "labelFontSize": 7.5, "labelFont": "Roboto",
                 "labelPadding": 4, "labelFlush": false, "labelOverlap": false}},
  "y": {"field": "il", "type": "quantitative", "scale": {"domain": [2.3205, 4.101], "nice": false, "zero": false, "padding": 0},
        "axis": {"title": null, "orient": "right", "offset": -31, "values": [3, 3.25, 3.5, 3.75, 4], "tickCount": 50, "labelExpr": "datum.value + 'M'",
                 "labelColor": "#b2b5be", "labelFontSize": 7, "labelFont": "Roboto", "labelPadding": 4, "ticks": false, "grid": false,
                 "domain": true, "domainColor": "#2a2e39", "labelOverlap": false}},
  "y2": {"field": "ih"},
  "color": {"condition": {"test": "datum.ic >= datum.io", "value": "#c0c8e0"}, "value": "#e08a5a"}}},
{"data": {"name": "c"}, "mark": {"type": "bar", "width": 2.4},
 "encoding": {
  "x": {"field": "t", "type": "quantitative"},
  "y": {"field": "io", "type": "quantitative"},
  "y2": {"field": "ic"},
  "color": {"condition": {"test": "datum.ic >= datum.io", "value": "#c0c8e0"}, "value": "#e08a5a"}}},
{"data": {"values": [{}]}, "mark": {"type": "rect", "color": "#1f222d"},
 "encoding": {"x": {"datum": 3, "type": "quantitative"}, "x2": {"datum": 243.6},
              "y": {"datum": 2.3205, "type": "quantitative"}, "y2": {"datum": 2.5644}}},
{"data": {"values": [{}]}, "mark": {"type": "rect", "color": "#5a1020", "opacity": 0.45},
 "encoding": {"x": {"datum": 234.4, "type": "quantitative"}, "x2": {"datum": 240.95},
              "y": {"datum": 3.418, "type": "quantitative"}, "y2": {"datum": 3.211}}},
{"data": {"values": [{}]}, "mark": {"type": "rect", "color": "#c49562"},
 "encoding": {"x": {"datum": 234.4, "type": "quantitative"}, "x2": {"datum": 242.6},
              "y": {"datum": 3.3915, "type": "quantitative"}, "y2": {"datum": 3.2695}}},
{"data": {"values": [{}]}, "mark": {"type": "text", "text": "3.331M", "align": "center", "color": "#ffffff", "fontWeight": "bold"},
 "encoding": {"x": {"datum": 238.5, "type": "quantitative"}, "y": {"datum": 3.331, "type": "quantitative"}}},
{"data": {"values": [{}]}, "mark": {"type": "text", "text": "Aggregated Open Interest", "color": "#d1d4dc"},
 "encoding": {"x": {"datum": 4.48, "type": "quantitative"}, "y": {"datum": 3.995, "type": "quantitative"}}},
{"data": {"values": [{}]}, "mark": {"type": "text", "text": "3.36M", "color": "#d39d6e"},
 "encoding": {"x": {"datum": 28.7, "type": "quantitative"}, "y": {"datum": 3.995, "type": "quantitative"}}},
{"data": {"values": [{}]}, "mark": {"type": "text", "text": "3.361M", "color": "#d39d6e"},
 "encoding": {"x": {"datum": 34.9, "type": "quantitative"}, "y": {"datum": 3.995, "type": "quantitative"}}},
{"data": {"values": [{}]}, "mark": {"type": "text", "text": "3.314M", "color": "#d39d6e"},
 "encoding": {"x": {"datum": 42.6, "type": "quantitative"}, "y": {"datum": 3.995, "type": "quantitative"}}},
{"data": {"values": [{}]}, "mark": {"type": "text", "text": "3.331M", "color": "#d39d6e"},
 "encoding": {"x": {"datum": 50.6, "type": "quantitative"}, "y": {"datum": 3.995, "type": "quantitative"}}},
{"data": {"values": [{}]}, "mark": {"type": "text", "text": "TV", "color": "#d1d4dc", "fontWeight": "bold", "fontSize": 8},
 "encoding": {"x": {"datum": 3.2, "type": "quantitative"}, "y": {"datum": 2.4425, "type": "quantitative"}}},
{"data": {"values": [{}]}, "mark": {"type": "text", "text": "TradingView", "color": "#d1d4dc", "fontSize": 8},
 "encoding": {"x": {"datum": 6.9, "type": "quantitative"}, "y": {"datum": 2.4425, "type": "quantitative"}}}
]
}
]
}
